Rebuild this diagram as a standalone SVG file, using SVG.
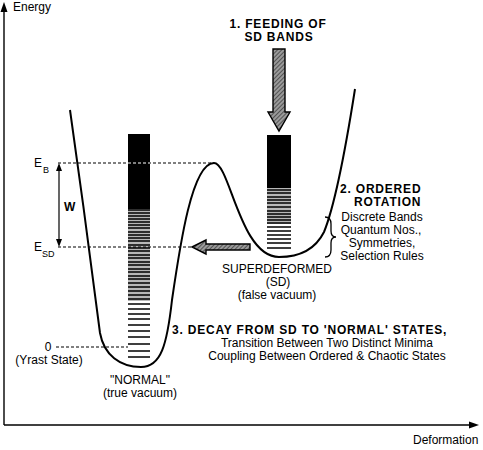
<svg xmlns="http://www.w3.org/2000/svg" width="483" height="450" viewBox="0 0 483 450">
<style>
.t{font-family:"Liberation Sans",Arial,sans-serif;font-size:12px;fill:#000}
.b{font-weight:bold;letter-spacing:0.8px}
.m{text-anchor:middle}
.sub{font-size:9px}
.dash{stroke:#000;stroke-width:1.2;stroke-dasharray:3 2;fill:none}
.arr{fill:url(#hatch);stroke:#000;stroke-width:1.4}
</style>
<defs>
<pattern id="hatch" patternUnits="userSpaceOnUse" width="3" height="3" patternTransform="rotate(45)">
<rect width="3" height="3" fill="#9a9a9a"/>
<line x1="0" y1="0" x2="0" y2="3" stroke="#222" stroke-width="1.2"/>
</pattern>
</defs>
<rect width="483" height="450" fill="#fff"/>

<g id="axes">
<line x1="4" y1="425" x2="4" y2="10" stroke="#000" stroke-width="1.4"/>
<polygon points="4,2 0.5,12 7.5,12" fill="#000"/>
<line x1="4" y1="425" x2="470" y2="425" stroke="#000" stroke-width="1.4"/>
<polygon points="479,425 469,421.5 469,428.5" fill="#000"/>
<text class="t" x="13" y="11">Energy</text>
<text class="t" x="413" y="444">Deformation</text>
</g>

<g id="columns">
<rect x="128" y="134" width="22" height="75" fill="#000"/>
<rect x="128" y="209" width="22" height="92" fill="#b8b8b8"/>
<path stroke="#000" stroke-width="1.5" d="M128 210h22M128 213h22M128 216h22M128 219h22M128 222h22M128 225h22M128 228h22M128 232h22M128 235h22M128 238h22M128 241h22M128 245h22M128 248h22M128 251h22M128 255h22M128 258h22M128 262h22M128 265h22M128 269h22M128 272h22M128 276h22M128 279h22M128 283h22M128 287h22M128 291h22M128 295h22M128 299h22M128 304h22M128 309h22M128 314h22M128 319h22M128 325h22M128 331h22M128 337h22M128 344h22M128 351h22M128 357h22"/>
<rect x="267" y="135" width="24" height="53" fill="#000"/>
<rect x="267" y="188" width="24" height="36" fill="#b8b8b8"/>
<path stroke="#000" stroke-width="1.5" d="M267 190h24M267 193h24M267 197h24M267 200h24M267 203h24M267 207h24M267 211h24M267 214h24M267 217h24M267 220h24M267 223h24M267 227h24M267 231h24M267 235h24M267 239h24M267 243h24M267 248h24"/>
</g>

<g id="levels">
<line class="dash" x1="58" y1="163" x2="214" y2="163"/>
<line class="dash" x1="58" y1="247" x2="192" y2="247"/>
<line class="dash" x1="56" y1="347" x2="128" y2="347"/>
<line x1="128" y1="163" x2="150" y2="163" stroke="#fff" stroke-width="1" stroke-dasharray="3 2"/>
<line x1="59" y1="170" x2="59" y2="240" stroke="#000" stroke-width="1.2"/>
<polygon points="59,163 56,171 62,171" fill="#000"/>
<polygon points="59,247 56,239 62,239" fill="#000"/>
<text class="t" x="34" y="167">E</text><text class="t sub" x="43" y="173">B</text>
<text class="t" x="34" y="251">E</text><text class="t sub" x="42" y="257">SD</text>
<text class="t" x="64" y="211" font-weight="bold">W</text>
<text class="t m" x="48" y="351">0</text>
<text class="t m" x="49" y="364">(Yrast State)</text>
</g>

<g id="curve">
<path fill="none" stroke="#000" stroke-width="2" d="M70,110 C80,180 92,270 100,333 C104,355 120,367 141,367 C161,367 167,345 172,300 C180,245 192,163 214,163 C230,163 240,257 279,257 C300,257 315,250 324,232 C335,205 347,140 355,89"/>
</g>

<g id="connectors">
<polygon class="arr" points="273,49 285,49 285,112 290,112 279,131 268,112 273,112"/>
<polygon class="arr" points="192,247 206,240 206,244 250,244 250,250 206,250 206,254"/>
<path fill="none" stroke="#000" stroke-width="1.3" d="M325,217 Q331,217 331,224 L331,231 Q331,237 336,237 Q331,237 331,243 L331,250 Q331,257 325,257"/>
</g>

<g id="label-feeding">
<text class="t b m" x="278" y="28">1. FEEDING OF</text>
<text class="t b m" x="279" y="41">SD BANDS</text>
</g>
<g id="label-ordered">
<text class="t b" x="340" y="193">2. ORDERED</text>
<text class="t b" x="354" y="206">ROTATION</text>
<text class="t m" x="382" y="221">Discrete Bands</text>
<text class="t m" x="381" y="234">Quantum Nos.,</text>
<text class="t m" x="382" y="247">Symmetries,</text>
<text class="t m" x="382" y="260">Selection Rules</text>
</g>
<g id="label-sd">
<text class="t m" x="277" y="273">SUPERDEFORMED</text>
<text class="t m" x="278" y="286">(SD)</text>
<text class="t m" x="277" y="299">(false vacuum)</text>
</g>
<g id="label-normal">
<text class="t m" x="140" y="384">"NORMAL"</text>
<text class="t m" x="140" y="397">(true vacuum)</text>
</g>
<g id="label-decay">
<text class="t b" x="172" y="334" letter-spacing="1">3. DECAY FROM SD TO 'NORMAL' STATES,</text>
<text class="t m" x="327" y="347">Transition Between Two Distinct Minima</text>
<text class="t m" x="327" y="360">Coupling Between Ordered &amp; Chaotic States</text>
</g>
</svg>
